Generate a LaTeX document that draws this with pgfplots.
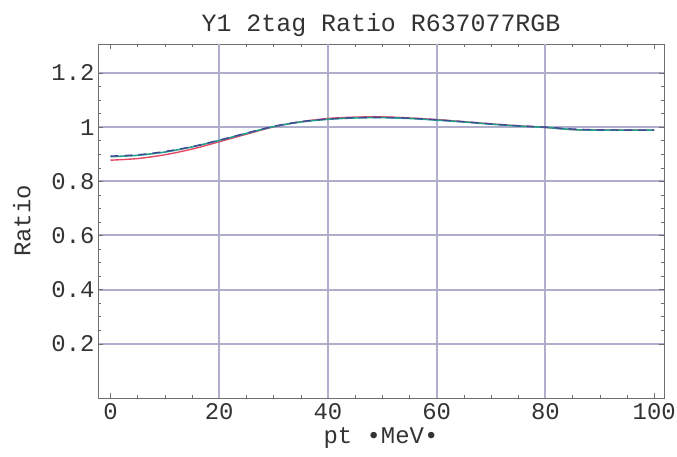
\documentclass[border=0pt]{standalone}
\usepackage{pgfplots}
\pgfplotsset{compat=1.18}
\usepackage{fontspec}
\setmainfont{Liberation Mono}
\definecolor{gridc}{RGB}{175,175,205}
\definecolor{framec}{RGB}{110,110,110}
\definecolor{cred}{RGB}{230,70,100}
\definecolor{cteal}{RGB}{30,160,140}
\definecolor{cblue}{RGB}{70,70,150}
\begin{document}
\begin{tikzpicture}[x=1bp,y=1bp]
\path[use as bounding box] (0,0) rectangle (677,457);
\begin{axis}[
  at={(98bp,59bp)}, anchor=south west,
  width=566bp, height=354bp, scale only axis,
  xmin=-2.3, xmax=101.8, ymin=0, ymax=1.307,
  xtick={0,20,40,60,80,100}, ytick={0.2,0.4,0.6,0.8,1,1.2},
  minor x tick num=3, minor y tick num=3,
  tick align=inside,
  major tick length=5bp, minor tick length=3bp,
  every tick/.style={framec, line width=0.5pt},
  axis line style={framec, line width=0.7pt},
  xmajorgrids=false, ymajorgrids=true,
  extra x ticks={20,40,60,80}, extra x tick labels={},
  extra x tick style={xmajorgrids=true, major tick length=0pt},
  major grid style={gridc, line width=2bp},
  /pgf/number format/assume math mode=true,
  ticklabel style={font=\fontsize{24}{26}\selectfont, text=black!80},
  yticklabel style={/pgf/number format/fixed, /pgf/number format/precision=1},
  xticklabel style={yshift=-2bp},
  title={Y1 2tag Ratio R637077RGB},
  title style={font=\fontsize{25}{28}\selectfont, text=black!80, yshift=-2bp},
  xlabel={pt •MeV•},
  ylabel={Ratio},
  label style={font=\fontsize{24}{26}\selectfont, text=black!80},
  xlabel style={yshift=-1bp},
  ylabel style={yshift=14bp},
]
\addplot[cred, line width=1.4pt, smooth] coordinates {
 (0,0.878) (5,0.884) (10,0.898) (15,0.919) (20,0.946) (25,0.974) (30,1.001)
 (35,1.020) (40,1.032) (45,1.037) (50,1.038) (55,1.034) (60,1.028) (65,1.020)
 (70,1.012) (75,1.005) (80,0.999) (85,0.991) (90,0.989) (95,0.989) (100,0.989)};
\addplot[cteal, line width=1.6pt, smooth] coordinates {
 (0,0.891) (5,0.896) (10,0.908) (15,0.927) (20,0.951) (25,0.977) (30,1.002)
 (35,1.019) (40,1.029) (45,1.034) (50,1.035) (55,1.032) (60,1.026) (65,1.019)
 (70,1.011) (75,1.004) (80,0.999) (85,0.991) (90,0.989) (95,0.989) (100,0.989)};
\addplot[cblue, line width=1.4pt, smooth, dash pattern=on 8bp off 6bp] coordinates {
 (0,0.893) (5,0.898) (10,0.910) (15,0.928) (20,0.952) (25,0.978) (30,1.003)
 (35,1.020) (40,1.030) (45,1.035) (50,1.036) (55,1.033) (60,1.027) (65,1.020)
 (70,1.012) (75,1.005) (80,1.000) (85,0.993) (90,0.990) (95,0.989) (100,0.989)};
\end{axis}
\end{tikzpicture}
\end{document}
